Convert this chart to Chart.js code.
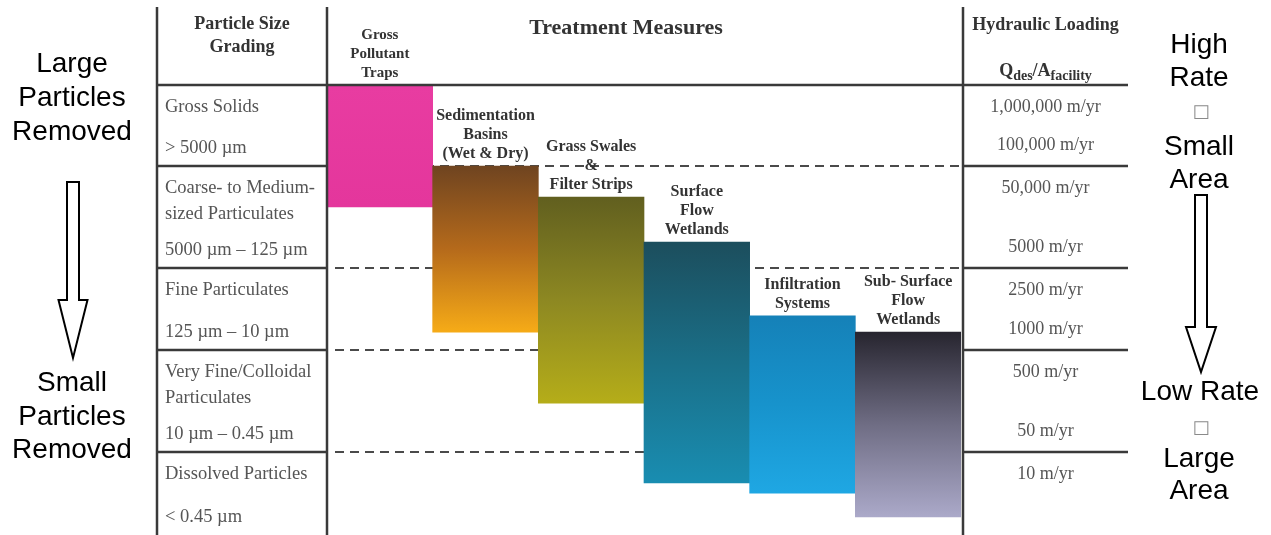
<!DOCTYPE html>
<html>
<head>
<meta charset="utf-8">
<script src="https://cdn.jsdelivr.net/npm/chart.js@4.4.0/dist/chart.umd.min.js"></script>
<style>
  html, body { margin: 0; padding: 0; background: #ffffff; }
  #wrap { position: relative; width: 1271px; height: 535px; }
</style>
</head>
<body>
<div id="wrap"><canvas id="c"></canvas></div>
<script>
// ---------------- data ----------------
// Vertical axis: relative position 0 (largest particles / highest loading) .. 100 (smallest / lowest)
const treatmentLabels = [
  ['Gross', 'Pollutant', 'Traps'],
  ['Sedimentation', 'Basins', '(Wet & Dry)'],
  ['Grass Swales', '&', 'Filter Strips'],
  ['Surface', 'Flow', 'Wetlands'],
  ['Infiltration', 'Systems'],
  ['Sub- Surface', 'Flow', 'Wetlands']
];
const rangeStart = [0, 18.0, 24.9, 34.9, 51.3, 54.9];
const rangeEnd   = [27.1, 54.9, 70.7, 88.4, 90.7, 96.0];

const rowEdges = [0, 18.0, 40.7, 58.9, 81.6, 100];
const particleNames = [
  ['Gross Solids'],
  ['Coarse- to Medium-', 'sized Particulates'],
  ['Fine Particulates'],
  ['Very Fine/Colloidal', 'Particulates'],
  ['Dissolved Particles']
];
const particleRanges = ['> 5000 \u00b5m', '5000 \u00b5m \u2013 125 \u00b5m', '125 \u00b5m \u2013 10 \u00b5m', '10 \u00b5m \u2013 0.45 \u00b5m', '< 0.45 \u00b5m'];
const loadingUpper = ['1,000,000 m/yr', '50,000 m/yr', '2500 m/yr', '500 m/yr', '10 m/yr'];
const loadingLower = ['100,000 m/yr', '5000 m/yr', '1000 m/yr', '50 m/yr', ''];

const barGradients = [
  ['#e83ca1', '#e4369c'],
  ['#6f4420', '#b56a1b', '#f6ab17'],
  ['#615f1f', '#8d8822', '#b5ad19'],
  ['#1c4e5d', '#1a6f88', '#198db1'],
  ['#1581b8', '#1793cc', '#1fa7e3'],
  ['#27252f', '#6f6d84', '#aba9c9']
];

// ---------------- helpers ----------------
const SERIF = '"Liberation Serif", "Times New Roman", serif';
const SANS = '"Liberation Sans", Arial, sans-serif';

function gradientFor(ctx) {
  const chart = ctx.chart;
  const area = chart.chartArea;
  const i = ctx.dataIndex;
  const stops = barGradients[i];
  if (!area || !chart.scales.y) return stops[0];
  const y = chart.scales.y;
  const top = y.getPixelForValue(rangeStart[i]);
  const bot = y.getPixelForValue(rangeEnd[i]);
  const g = chart.ctx.createLinearGradient(0, top, 0, bot);
  stops.forEach((c, k) => g.addColorStop(stops.length === 1 ? 0 : k / (stops.length - 1), c));
  return g;
}

function downArrow(ctx, cx, shaftTop, headTop, tip, sh, hh) {
  ctx.save();
  ctx.beginPath();
  ctx.moveTo(cx - sh, shaftTop);
  ctx.lineTo(cx + sh, shaftTop);
  ctx.lineTo(cx + sh, headTop);
  ctx.lineTo(cx + hh, headTop);
  ctx.lineTo(cx, tip);
  ctx.lineTo(cx - hh, headTop);
  ctx.lineTo(cx - sh, headTop);
  ctx.closePath();
  ctx.fillStyle = '#ffffff';
  ctx.fill();
  ctx.lineWidth = 2;
  ctx.strokeStyle = '#000000';
  ctx.lineJoin = 'miter';
  ctx.stroke();
  ctx.restore();
}

function textLines(ctx, lines, x, ys) {
  lines.forEach((t, k) => ctx.fillText(t, x, ys[k]));
}

const TABLE_LEFT = 157, TABLE_RIGHT = 1128, TABLE_TOP = 7, DIVIDER_RIGHT = 963;

const tablePlugin = {
  id: 'tablePlugin',
  beforeDatasetsDraw(chart) {
    const { ctx, chartArea: a, scales: { y } } = chart;
    ctx.save();
    ctx.strokeStyle = '#4a4a4a';
    ctx.lineWidth = 2;
    ctx.setLineDash([9, 6]);
    for (let i = 1; i < rowEdges.length - 1; i++) {
      const py = Math.round(y.getPixelForValue(rowEdges[i]));
      ctx.beginPath();
      ctx.moveTo(a.left + 8, py);
      ctx.lineTo(DIVIDER_RIGHT - 4, py);
      ctx.stroke();
    }
    ctx.restore();
  },
  afterDatasetsDraw(chart) {
    const { ctx, chartArea: a, scales: { x, y } } = chart;
    const H = chart.height;
    ctx.save();

    // ---- solid table lines ----
    ctx.strokeStyle = '#3a3a3a';
    ctx.lineWidth = 2.5;
    const headY = Math.round(y.getPixelForValue(rowEdges[0]));
    ctx.beginPath();
    ctx.moveTo(TABLE_LEFT, headY); ctx.lineTo(TABLE_RIGHT, headY);
    [TABLE_LEFT, a.left, DIVIDER_RIGHT].forEach(vx => { ctx.moveTo(vx, TABLE_TOP); ctx.lineTo(vx, H); });
    for (let i = 1; i < rowEdges.length - 1; i++) {
      const py = Math.round(y.getPixelForValue(rowEdges[i]));
      ctx.moveTo(TABLE_LEFT, py); ctx.lineTo(a.left, py);
      ctx.moveTo(DIVIDER_RIGHT, py); ctx.lineTo(TABLE_RIGHT, py);
    }
    ctx.stroke();

    // ---- headers ----
    ctx.fillStyle = '#333333';
    ctx.textAlign = 'center';
    ctx.textBaseline = 'middle';
    ctx.font = 'bold 18px ' + SERIF;
    textLines(ctx, ['Particle Size', 'Grading'], (TABLE_LEFT + a.left) / 2, [24, 47]);
    ctx.font = 'bold 22px ' + SERIF;
    ctx.fillText('Treatment Measures', 626, 28);
    ctx.font = 'bold 18px ' + SERIF;
    const hx = (DIVIDER_RIGHT + TABLE_RIGHT) / 2;
    ctx.fillText('Hydraulic Loading', hx, 25);

    // Q_des / A_facility
    const big = 'bold 18px ' + SERIF, small = 'bold 14px ' + SERIF;
    const parts = [['Q', big, 0], ['des', small, 4], ['/', big, 0], ['A', big, 0], ['facility', small, 4]];
    let total = 0;
    parts.forEach(p => { ctx.font = p[1]; p.push(ctx.measureText(p[0]).width); total += p[3]; });
    let px = hx - total / 2;
    ctx.textAlign = 'left';
    ctx.textBaseline = 'alphabetic';
    parts.forEach(p => { ctx.font = p[1]; ctx.fillText(p[0], px, 76 + p[2]); px += p[3]; });

    // ---- particle size column ----
    ctx.fillStyle = '#555555';
    ctx.textAlign = 'left';
    ctx.textBaseline = 'middle';
    ctx.font = '18.5px ' + SERIF;
    for (let r = 0; r < particleNames.length; r++) {
      const top = y.getPixelForValue(rowEdges[r]);
      const bot = y.getPixelForValue(rowEdges[r + 1]);
      particleNames[r].forEach((t, k) => ctx.fillText(t, TABLE_LEFT + 8, top + 22 + k * 26));
      ctx.fillText(particleRanges[r], TABLE_LEFT + 8, bot - 18);
    }

    // ---- hydraulic loading column ----
    ctx.textAlign = 'center';
    ctx.font = '18px ' + SERIF;
    for (let r = 0; r < loadingUpper.length; r++) {
      const top = y.getPixelForValue(rowEdges[r]);
      const bot = y.getPixelForValue(rowEdges[r + 1]);
      ctx.fillText(loadingUpper[r], hx, top + 22);
      if (loadingLower[r]) ctx.fillText(loadingLower[r], hx, bot - 21);
    }

    // ---- treatment labels above bars ----
    ctx.fillStyle = '#333333';
    treatmentLabels.forEach((lines, i) => {
      ctx.font = (i === 0 ? 'bold 15px ' : 'bold 16px ') + SERIF;
      const cx = x.getPixelForValue(i);
      const topPx = y.getPixelForValue(rangeStart[i]);
      const n = lines.length;
      lines.forEach((t, k) => ctx.fillText(t, cx, topPx - 12 - (n - 1 - k) * 19));
    });

    // ---- side annotations ----
    ctx.fillStyle = '#000000';
    ctx.font = '28px ' + SANS;
    textLines(ctx, ['Large', 'Particles', 'Removed'], 72, [64, 98, 132]);
    textLines(ctx, ['Small', 'Particles', 'Removed'], 72, [383, 417, 450]);
    textLines(ctx, ['High', 'Rate'], 1199, [45, 78]);
    textLines(ctx, ['Small', 'Area'], 1199, [147, 180]);
    textLines(ctx, ['Low Rate'], 1200, [392]);
    textLines(ctx, ['Large', 'Area'], 1199, [459, 491]);
    ctx.fillStyle = '#8a8a8a';
    ctx.font = '18px "DejaVu Sans", sans-serif';
    ctx.fillText('\u25a1', 1201, 112);
    ctx.fillText('\u25a1', 1201, 428);

    downArrow(ctx, 73, 182, 300, 358, 6, 14.5);
    downArrow(ctx, 1201, 195, 327, 372, 6, 15);

    ctx.restore();
  }
};

new Chart(document.getElementById('c'), {
  type: 'bar',
  data: {
    labels: treatmentLabels.map(l => l.join(' ')),
    datasets: [{
      label: 'Treatment range',
      data: rangeStart.map((s, i) => [s, rangeEnd[i]]),
      backgroundColor: gradientFor,
      borderWidth: 0,
      barPercentage: 1,
      categoryPercentage: 1
    }]
  },
  options: {
    responsive: true,
    maintainAspectRatio: false,
    animation: false,
    events: [],
    layout: { padding: { left: 327, right: 1271 - 961, top: 85, bottom: 0 } },
    plugins: { legend: { display: false }, tooltip: { enabled: false }, title: { display: false } },
    scales: {
      x: { type: 'category', display: false, offset: true },
      y: { type: 'linear', display: false, reverse: true, min: 0, max: 100 }
    }
  },
  plugins: [tablePlugin]
});
</script>
</body>
</html>
